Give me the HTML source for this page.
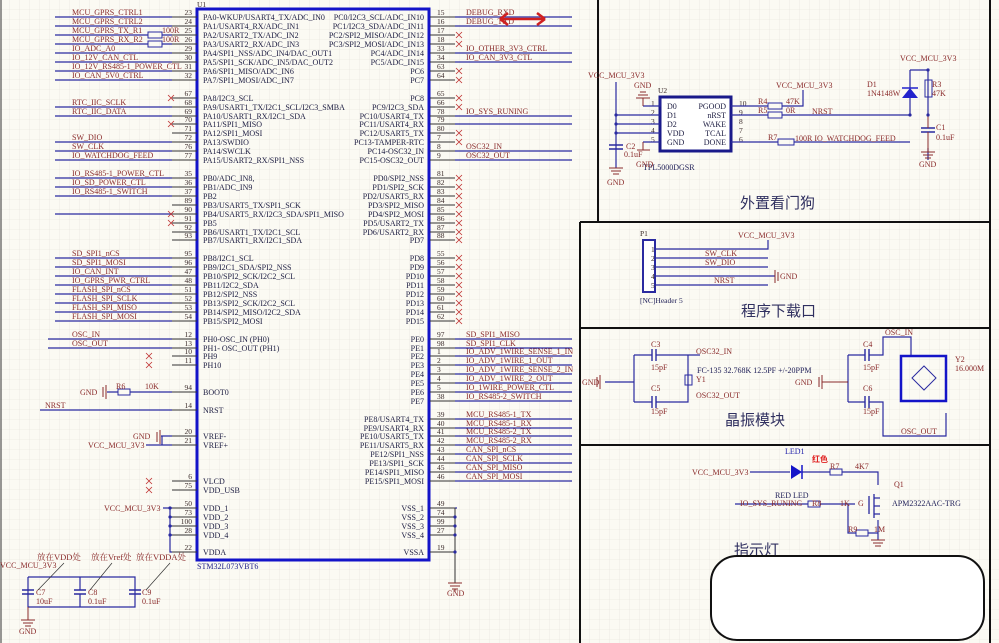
<!DOCTYPE html>
<html><head><meta charset="utf-8"><style>
html,body{margin:0;padding:0;background:#fbfaf3;}
svg{display:block;font-family:"Liberation Serif","Noto Serif CJK SC",serif;}
.p{font-size:8px;fill:#1b1b40}
.n{font-size:8px;fill:#8a2b2b}
.num{font-size:7.5px;fill:#3a2a2a}
.w{stroke:#2a2aa0;stroke-width:1.2;fill:none}
.pin{stroke:#333;stroke-width:1;fill:none}
.x{stroke:#c03030;stroke-width:0.8}
.cn{font-family:"Liberation Sans","Noto Sans CJK SC",sans-serif;font-size:15px;fill:#303060}
</style></head><body>
<svg width="999" height="643" viewBox="0 0 999 643" xmlns="http://www.w3.org/2000/svg">
<defs><pattern id="g" width="10" height="10" patternUnits="userSpaceOnUse"><path d="M10 0V10H0" fill="none" stroke="#e4e2da" stroke-width="0.6"/></pattern></defs>
<rect width="999" height="643" fill="#fbfaf3"/><rect width="999" height="643" fill="url(#g)"/>
<line x1="1" y1="0" x2="1" y2="643" stroke="#333" stroke-width="1"/>
<!-- IC -->
<rect x="197" y="9" width="232" height="551" fill="none" stroke="#1414c8" stroke-width="3"/>
<text x="197" y="7" class="num" fill="#22228a">U1</text>
<text x="197" y="569" class="n" style="fill:#22228a">STM32L073VBT6</text>
<g class="pin">
<path d="M172 17H197M172 26H197M172 35H197M172 44H197M172 53H197M172 62H197M172 71H197M172 80H197M172 98H197M172 107H197M172 116H197M172 124H197M172 133H197M172 142H197M172 151H197M172 160H197M172 178H197M172 187H197M172 196H197M172 205H197M172 214H197M172 223H197M172 232H197M172 240H197M172 258H197M172 267H197M172 276H197M172 285H197M172 294H197M172 303H197M172 312H197M172 321H197M172 339H197M172 348H197M172 356H197M172 365H197M172 392H197M172 410H197M172 436H197M172 445H197M172 481H197M172 490H197M172 508H197M172 517H197M172 526H197M172 535H197M172 552H197"/>
<path d="M430 17H455M430 26H455M430 35H455M430 44H455M430 53H455M430 62H455M430 71H455M430 80H455M430 98H455M430 107H455M430 116H455M430 124H455M430 133H455M430 142H455M430 151H455M430 160H455M430 178H455M430 187H455M430 196H455M430 205H455M430 214H455M430 223H455M430 232H455M430 240H455M430 258H455M430 267H455M430 276H455M430 285H455M430 294H455M430 303H455M430 312H455M430 321H455M430 339H455M430 348H455M430 356H455M430 365H455M430 374H455M430 383H455M430 392H455M430 401H455M430 419H455M430 428H455M430 436H455M430 445H455M430 454H455M430 463H455M430 472H455M430 481H455M430 508H455M430 517H455M430 526H455M430 535H455M430 552H455"/>
</g>
<!-- left pin names -->
<g class="p">
<text x="203" y="20">PA0-WKUP/USART4_TX/ADC_IN0</text><text x="203" y="29">PA1/USART4_RX/ADC_IN1</text><text x="203" y="38">PA2/USART2_TX/ADC_IN2</text><text x="203" y="47">PA3/USART2_RX/ADC_IN3</text><text x="203" y="56">PA4/SPI1_NSS/ADC_IN4/DAC_OUT1</text><text x="203" y="65">PA5/SPI1_SCK/ADC_IN5/DAC_OUT2</text><text x="203" y="74">PA6/SPI1_MISO/ADC_IN6</text><text x="203" y="83">PA7/SPI1_MOSI/ADC_IN7</text>
<text x="203" y="101">PA8/I2C3_SCL</text><text x="203" y="110">PA9/USART1_TX/I2C1_SCL/I2C3_SMBA</text><text x="203" y="119">PA10/USART1_RX/I2C1_SDA</text><text x="203" y="127">PA11/SPI1_MISO</text><text x="203" y="136">PA12/SPI1_MOSI</text><text x="203" y="145">PA13/SWDIO</text><text x="203" y="154">PA14/SWCLK</text><text x="203" y="163">PA15/USART2_RX/SPI1_NSS</text>
<text x="203" y="181">PB0/ADC_IN8,</text><text x="203" y="190">PB1/ADC_IN9</text><text x="203" y="199">PB2</text><text x="203" y="208">PB3/USART5_TX/SPI1_SCK</text><text x="203" y="217">PB4/USART5_RX/I2C3_SDA/SPI1_MISO</text><text x="203" y="226">PB5</text><text x="203" y="235">PB6/USART1_TX/I2C1_SCL</text><text x="203" y="243">PB7/USART1_RX/I2C1_SDA</text>
<text x="203" y="261">PB8/I2C1_SCL</text><text x="203" y="270">PB9/I2C1_SDA/SPI2_NSS</text><text x="203" y="279">PB10/SPI2_SCK/I2C2_SCL</text><text x="203" y="288">PB11/I2C2_SDA</text><text x="203" y="297">PB12/SPI2_NSS</text><text x="203" y="306">PB13/SPI2_SCK/I2C2_SCL</text><text x="203" y="315">PB14/SPI2_MISO/I2C2_SDA</text><text x="203" y="324">PB15/SPI2_MOSI</text>
<text x="203" y="342">PH0-OSC_IN (PH0)</text><text x="203" y="351">PH1- OSC_OUT (PH1)</text><text x="203" y="359">PH9</text><text x="203" y="368">PH10</text>
<text x="203" y="395">BOOT0</text><text x="203" y="413">NRST</text><text x="203" y="439">VREF-</text><text x="203" y="448">VREF+</text><text x="203" y="484">VLCD</text><text x="203" y="493">VDD_USB</text>
<text x="203" y="511">VDD_1</text><text x="203" y="520">VDD_2</text><text x="203" y="529">VDD_3</text><text x="203" y="538">VDD_4</text><text x="203" y="555">VDDA</text>
</g>
<!-- right pin names -->
<g class="p" text-anchor="end">
<text x="424" y="20">PC0/I2C3_SCL/ADC_IN10</text><text x="424" y="29">PC1/I2C3_SDA/ADC_IN11</text><text x="424" y="38">PC2/SPI2_MISO/ADC_IN12</text><text x="424" y="47">PC3/SPI2_MOSI/ADC_IN13</text><text x="424" y="56">PC4/ADC_IN14</text><text x="424" y="65">PC5/ADC_IN15</text><text x="424" y="74">PC6</text><text x="424" y="83">PC7</text>
<text x="424" y="101">PC8</text><text x="424" y="110">PC9/I2C3_SDA</text><text x="424" y="119">PC10/USART4_TX</text><text x="424" y="127">PC11/USART4_RX</text><text x="424" y="136">PC12/USART5_TX</text><text x="424" y="145">PC13-TAMPER-RTC</text><text x="424" y="154">PC14-OSC32_IN</text><text x="424" y="163">PC15-OSC32_OUT</text>
<text x="424" y="181">PD0/SPI2_NSS</text><text x="424" y="190">PD1/SPI2_SCK</text><text x="424" y="199">PD2/USART5_RX</text><text x="424" y="208">PD3/SPI2_MISO</text><text x="424" y="217">PD4/SPI2_MOSI</text><text x="424" y="226">PD5/USART2_TX</text><text x="424" y="235">PD6/USART2_RX</text><text x="424" y="243">PD7</text>
<text x="424" y="261">PD8</text><text x="424" y="270">PD9</text><text x="424" y="279">PD10</text><text x="424" y="288">PD11</text><text x="424" y="297">PD12</text><text x="424" y="306">PD13</text><text x="424" y="315">PD14</text><text x="424" y="324">PD15</text>
<text x="424" y="342">PE0</text><text x="424" y="351">PE1</text><text x="424" y="359">PE2</text><text x="424" y="368">PE3</text><text x="424" y="377">PE4</text><text x="424" y="386">PE5</text><text x="424" y="395">PE6</text><text x="424" y="404">PE7</text>
<text x="424" y="422">PE8/USART4_TX</text><text x="424" y="431">PE9/USART4_RX</text><text x="424" y="439">PE10/USART5_TX</text><text x="424" y="448">PE11/USART5_RX</text><text x="424" y="457">PE12/SPI1_NSS</text><text x="424" y="466">PE13/SPI1_SCK</text><text x="424" y="475">PE14/SPI1_MISO</text><text x="424" y="484">PE15/SPI1_MOSI</text>
<text x="424" y="511">VSS_1</text><text x="424" y="520">VSS_2</text><text x="424" y="529">VSS_3</text><text x="424" y="538">VSS_4</text><text x="424" y="555">VSSA</text>
</g>
<!-- pin numbers -->
<g class="num" text-anchor="end">
<text x="192" y="15">23</text><text x="192" y="24">24</text><text x="192" y="33">25</text><text x="192" y="42">26</text><text x="192" y="51">29</text><text x="192" y="60">30</text><text x="192" y="69">31</text><text x="192" y="78">32</text>
<text x="192" y="96">67</text><text x="192" y="105">68</text><text x="192" y="114">69</text><text x="192" y="122">70</text><text x="192" y="131">71</text><text x="192" y="140">72</text><text x="192" y="149">76</text><text x="192" y="158">77</text>
<text x="192" y="176">35</text><text x="192" y="185">36</text><text x="192" y="194">37</text><text x="192" y="203">89</text><text x="192" y="212">90</text><text x="192" y="221">91</text><text x="192" y="230">92</text><text x="192" y="238">93</text>
<text x="192" y="256">95</text><text x="192" y="265">96</text><text x="192" y="274">47</text><text x="192" y="283">48</text><text x="192" y="292">51</text><text x="192" y="301">52</text><text x="192" y="310">53</text><text x="192" y="319">54</text>
<text x="192" y="337">12</text><text x="192" y="346">13</text><text x="192" y="354">10</text><text x="192" y="363">11</text><text x="192" y="390">94</text><text x="192" y="408">14</text><text x="192" y="434">20</text><text x="192" y="443">21</text><text x="192" y="479">6</text><text x="192" y="488">75</text><text x="192" y="506">50</text><text x="192" y="515">73</text><text x="192" y="524">100</text><text x="192" y="533">28</text><text x="192" y="550">22</text>
</g>
<g class="num">
<text x="437" y="15">15</text><text x="437" y="24">16</text><text x="437" y="33">17</text><text x="437" y="42">18</text><text x="437" y="51">33</text><text x="437" y="60">34</text><text x="437" y="69">63</text><text x="437" y="78">64</text>
<text x="437" y="96">65</text><text x="437" y="105">66</text><text x="437" y="114">78</text><text x="437" y="122">79</text><text x="437" y="131">80</text><text x="437" y="140">7</text><text x="437" y="149">8</text><text x="437" y="158">9</text>
<text x="437" y="176">81</text><text x="437" y="185">82</text><text x="437" y="194">83</text><text x="437" y="203">84</text><text x="437" y="212">85</text><text x="437" y="221">86</text><text x="437" y="230">87</text><text x="437" y="238">88</text>
<text x="437" y="256">55</text><text x="437" y="265">56</text><text x="437" y="274">57</text><text x="437" y="283">58</text><text x="437" y="292">59</text><text x="437" y="301">60</text><text x="437" y="310">61</text><text x="437" y="319">62</text>
<text x="437" y="337">97</text><text x="437" y="346">98</text><text x="437" y="354">1</text><text x="437" y="363">2</text><text x="437" y="372">3</text><text x="437" y="381">4</text><text x="437" y="390">5</text><text x="437" y="399">38</text>
<text x="437" y="417">39</text><text x="437" y="426">40</text><text x="437" y="434">41</text><text x="437" y="443">42</text><text x="437" y="452">43</text><text x="437" y="461">44</text><text x="437" y="470">45</text><text x="437" y="479">46</text>
<text x="437" y="506">49</text><text x="437" y="515">74</text><text x="437" y="524">99</text><text x="437" y="533">27</text><text x="437" y="550">19</text>
</g>
<!-- left nets -->
<path class="w" d="M55 17H172M55 26H172M55 35H148M162 35H172M55 44H148M162 44H172M55 53H172M55 62H172M55 71H172M55 80H172M55 107H172M55 116H172M55 142H172M55 151H172M55 160H172M55 178H172M55 187H172M55 196H172M55 214H172M55 258H172M55 267H172M55 276H172M55 285H172M55 294H172M55 303H172M55 312H172M55 321H172M48 339H172M48 348H172"/>
<rect x="148" y="32" width="14" height="6" fill="none" stroke="#2a2aa0"/><rect x="148" y="41" width="14" height="6" fill="none" stroke="#2a2aa0"/>
<g class="n">
<text x="72" y="15">MCU_GPRS_CTRL1</text><text x="72" y="24">MCU_GPRS_CTRL2</text><text x="72" y="33">MCU_GPRS_TX_R1</text><text x="72" y="42">MCU_GPRS_RX_R2</text><text x="162" y="33">100R</text><text x="162" y="42">100R</text><text x="72" y="51">IO_ADC_A0</text><text x="72" y="60">IO_12V_CAN_CTL</text><text x="72" y="69">IO_12V_RS485-1_POWER_CTL</text><text x="72" y="78">IO_CAN_5V0_CTRL</text>
<text x="72" y="105">RTC_IIC_SCLK</text><text x="72" y="114">RTC_IIC_DATA</text><text x="72" y="140">SW_DIO</text><text x="72" y="149">SW_CLK</text><text x="72" y="158">IO_WATCHDOG_FEED</text>
<text x="72" y="176">IO_RS485-1_POWER_CTL</text><text x="72" y="185">IO_SD_POWER_CTL</text><text x="72" y="194">IO_RS485-1_SWITCH</text>
<text x="72" y="256">SD_SPI1_nCS</text><text x="72" y="265">SD_SPI1_MOSI</text><text x="72" y="274">IO_CAN_INT</text><text x="72" y="283">IO_GPRS_PWR_CTRL</text><text x="72" y="292">FLASH_SPI_nCS</text><text x="72" y="301">FLASH_SPI_SCLK</text><text x="72" y="310">FLASH_SPI_MISO</text><text x="72" y="319">FLASH_SPI_MOSI</text>
<text x="72" y="337">OSC_IN</text><text x="72" y="346">OSC_OUT</text>
</g>
<!-- right nets -->
<path class="w" d="M455 17H572M455 26H572M455 53H572M455 62H572M455 116H572M455 124H572M455 151H572M455 160H572M455 339H572M455 348H572M455 356H572M455 365H572M455 374H572M455 383H572M455 392H572M455 401H572M455 419H572M455 428H572M455 436H572M455 445H572M455 454H572M455 463H572M455 472H572M455 481H572"/>
<g class="n">
<text x="466" y="15">DEBUG_RXD</text><text x="466" y="24">DEBUG_TXD</text><text x="466" y="51">IO_OTHER_3V3_CTRL</text><text x="466" y="60">IO_CAN_3V3_CTL</text><text x="466" y="114">IO_SYS_RUNING</text><text x="466" y="149">OSC32_IN</text><text x="466" y="158">OSC32_OUT</text>
<text x="466" y="337">SD_SPI1_MISO</text><text x="466" y="346">SD_SPI1_CLK</text><text x="466" y="354">IO_ADV_1WIRE_SENSE_1_IN</text><text x="466" y="363">IO_ADV_1WIRE_1_OUT</text><text x="466" y="372">IO_ADV_1WIRE_SENSE_2_IN</text><text x="466" y="381">IO_ADV_1WIRE_2_OUT</text><text x="466" y="390">IO_1WIRE_POWER_CTL</text><text x="466" y="399">IO_RS485-2_SWITCH</text>
<text x="466" y="417">MCU_RS485-1_TX</text><text x="466" y="426">MCU_RS485-1_RX</text><text x="466" y="434">MCU_RS485-2_TX</text><text x="466" y="443">MCU_RS485-2_RX</text><text x="466" y="452">CAN_SPI_nCS</text><text x="466" y="461">CAN_SPI_SCLK</text><text x="466" y="470">CAN_SPI_MISO</text><text x="466" y="479">CAN_SPI_MOSI</text>
</g>
<!-- no-connect X -->
<g class="x">
<path d="M168 95l6 6M174 95l-6 6M168 121l6 6M174 121l-6 6M168 211l6 6M174 211l-6 6M168 220l6 6M174 220l-6 6M146 353l6 6M152 353l-6 6M146 362l6 6M152 362l-6 6M146 478l6 6M152 478l-6 6M146 487l6 6M152 487l-6 6"/>
<path d="M456 32l6 6M462 32l-6 6M456 41l6 6M462 41l-6 6M456 68l6 6M462 68l-6 6M456 77l6 6M462 77l-6 6M456 95l6 6M462 95l-6 6M456 104l6 6M462 104l-6 6M456 130l6 6M462 130l-6 6M456 139l6 6M462 139l-6 6M456 175l6 6M462 175l-6 6M456 184l6 6M462 184l-6 6M456 193l6 6M462 193l-6 6M456 202l6 6M462 202l-6 6M456 211l6 6M462 211l-6 6M456 220l6 6M462 220l-6 6M456 229l6 6M462 229l-6 6M456 237l6 6M462 237l-6 6M456 255l6 6M462 255l-6 6M456 264l6 6M462 264l-6 6M456 273l6 6M462 273l-6 6M456 282l6 6M462 282l-6 6M456 291l6 6M462 291l-6 6M456 300l6 6M462 300l-6 6M456 309l6 6M462 309l-6 6M456 318l6 6M462 318l-6 6"/>
</g>
<!-- red arrow -->
<path d="M500 19H545M500 19l8-6M500 19l8 6M545 19l-8-6M545 19l-8 6" stroke="#d02020" stroke-width="2.5" fill="none"/>
<!-- boot / nrst / vref -->
<path class="w" d="M107 392H118M130 392H172M40 410H172" />
<rect x="118" y="389" width="12" height="6" fill="none" stroke="#2a2aa0"/>
<path d="M103 387V397M106 385V399" stroke="#8a2b2b"/>
<text x="80" y="395" class="n">GND</text><text x="116" y="389" class="n">R6</text><text x="145" y="389" class="n">10K</text><text x="45" y="408" class="n">NRST</text>
<path d="M157 432V442M160 430V444" stroke="#8a2b2b"/><path class="w" d="M161 436H172M146 445H172M162 436V445"/>
<text x="133" y="439" class="n">GND</text><text x="88" y="448" class="n">VCC_MCU_3V3</text>
<!-- vdd -->
<path class="w" d="M163 508H172M170 508V552H172M170 517H172M170 526H172M170 535H172"/>
<text x="104" y="511" class="n">VCC_MCU_3V3</text>
<path class="w" d="M455 508H456M455 508H457"/><path d="M455 508V552M455 552V583M430 517H455M430 526H455M430 535H455" stroke="#333"/>
<g fill="#2a2aa0"><circle cx="170" cy="508" r="1.6"/><circle cx="170" cy="517" r="1.6"/><circle cx="170" cy="526" r="1.6"/><circle cx="170" cy="535" r="1.6"/><circle cx="455" cy="517" r="1.6"/><circle cx="455" cy="526" r="1.6"/><circle cx="455" cy="535" r="1.6"/><circle cx="455" cy="552" r="1.6"/></g>
<path d="M448 583H462M450 586H460M452 589H458M455 589V592" stroke="#8a2b2b"/><text x="447" y="596" class="n">GND</text>
<!-- caps bottom-left -->
<text x="0" y="568" class="n">VCC_MCU_3V3</text>
<path class="w" d="M28 577H135V607H28V577M28 577V590M28 594V607M80 577V590M80 594V607M135 594"/>
<path d="M22 590H34M22 594H34M74 590H86M74 594H86M129 590H141M129 594H141" stroke="#2a2aa0" stroke-width="1.4"/>
<path d="M28 607V620M21 620H35M23 623H33M25 626H31" stroke="#8a2b2b"/><text x="19" y="634" class="n">GND</text>
<text x="36" y="595" class="n">C7</text><text x="36" y="604" class="n">10uF</text><text x="88" y="595" class="n">C8</text><text x="88" y="604" class="n">0.1uF</text><text x="142" y="595" class="n">C9</text><text x="142" y="604" class="n">0.1uF</text>
<text x="37" y="560" class="n" style="font-size:8.5px">放在VDD处</text><text x="91" y="560" class="n" style="font-size:8.5px">放在Vref处</text><text x="136" y="560" class="n" style="font-size:8.5px">放在VDDA处</text>
<path d="M64 563L38 590M112 563L90 590M170 563L146 590" stroke="#333" stroke-width="0.7"/>
<!-- section borders -->
<g stroke="#111" stroke-width="2" fill="none">
<path d="M598 0V222H990V0"/><path d="M580 222V643"/><path d="M580 222H598"/><path d="M580 328H990M580 445H990"/><path d="M990 222V643"/>
</g>
<!-- watchdog -->
<rect x="660" y="97" width="71" height="54" fill="#fff" stroke="#1a1a8a" stroke-width="3"/>
<g class="p"><text x="667" y="109">D0</text><text x="667" y="118">D1</text><text x="667" y="127">D2</text><text x="667" y="136">VDD</text><text x="667" y="145">GND</text></g>
<g class="p" text-anchor="end"><text x="726" y="109">PGOOD</text><text x="726" y="118">nRST</text><text x="726" y="127">WAKE</text><text x="726" y="136">TCAL</text><text x="726" y="145">DONE</text></g>
<g class="num"><text x="651" y="106">1</text><text x="651" y="115">2</text><text x="651" y="124">3</text><text x="651" y="133">4</text><text x="651" y="142">5</text><text x="739" y="106">10</text><text x="739" y="115">9</text><text x="739" y="124">8</text><text x="739" y="133">7</text><text x="739" y="142">6</text></g>
<text x="658" y="93" class="num">U2</text><text x="643" y="170" class="n" style="fill:#22225a">TPL5000DGSR</text>
<path class="w" d="M616 82V168M616 115H660M616 124H660M616 133H660M643 106H660V98M643 142H660"/>
<path d="M636 98H650M638 95H648M640 92H646M643 98V106M643 142V150M637 150H650" stroke="#8a2b2b"/>
<path d="M609 145H623M609 149H623" stroke="#2a2aa0" stroke-width="1.4"/>
<path d="M609 168H623M611 171H621M613 174H619" stroke="#8a2b2b"/>
<text x="588" y="78" class="n">VCC_MCU_3V3</text><text x="634" y="88" class="n">GND</text><text x="607" y="185" class="n">GND</text><text x="626" y="149" class="n">C2</text><text x="624" y="157" class="n">0.1uF</text><text x="636" y="167" class="n">GND</text>
<path class="w" d="M731 106H768M782 106H803V90M731 115H768M782 115H910M731 142H778M794 142H910"/>
<rect x="768" y="103" width="14" height="6" fill="none" stroke="#2a2aa0"/><rect x="768" y="112" width="14" height="6" fill="none" stroke="#2a2aa0"/><rect x="778" y="139" width="16" height="6" fill="none" stroke="#2a2aa0"/>
<text x="758" y="104" class="n">R4</text><text x="786" y="104" class="n">47K</text><text x="758" y="113" class="n">R5</text><text x="786" y="113" class="n">0R</text><text x="812" y="114" class="n">NRST</text><text x="768" y="140" class="n">R7</text><text x="795" y="141" class="n">100R IO_WATCHDOG_FEED</text>
<text x="776" y="88" class="n">VCC_MCU_3V3</text>
<path class="w" d="M910 70H928V115M910 70V115M928 148V160"/>
<path d="M902 98H918L910 88Z" fill="#2222cc"/><path d="M902 88H918" stroke="#2222cc" stroke-width="1.5"/>
<rect x="925" y="80" width="7" height="17" fill="none" stroke="#2a2aa0"/>
<path d="M921 128H935M921 132H935" stroke="#2a2aa0" stroke-width="1.4"/><path d="M928 115V128M928 132V152M921 152H935M923 155H933M925 158H931" stroke="#8a2b2b"/>
<g fill="#2a2aa0"><circle cx="910" cy="115" r="1.6"/><circle cx="928" cy="115" r="1.6"/><circle cx="928" cy="70" r="1.6"/><circle cx="616" cy="115" r="1.6"/><circle cx="616" cy="124" r="1.6"/><circle cx="616" cy="133" r="1.6"/></g>
<text x="900" y="61" class="n">VCC_MCU_3V3</text><text x="867" y="87" class="n">D1</text><text x="867" y="96" class="n">1N4148W</text><text x="932" y="87" class="n">R3</text><text x="932" y="96" class="n">47K</text><text x="936" y="130" class="n">C1</text><text x="936" y="140" class="n">0.1uF</text><text x="919" y="167" class="n">GND</text>
<text x="740" y="208" class="cn">外置看门狗</text>
<!-- download header -->
<rect x="643" y="240" width="12" height="52" fill="#fff" stroke="#2a2aa0" stroke-width="2"/>
<text x="640" y="236" class="num">P1</text>
<g class="num"><text x="651" y="252">1</text><text x="651" y="261">2</text><text x="651" y="270">3</text><text x="651" y="279">4</text><text x="651" y="288">5</text></g>
<path class="w" d="M655 249H768V240M655 258H768M655 267H768M655 276H775M655 285H768"/>
<path d="M775 270V283M778 272V281" stroke="#8a2b2b"/><text x="780" y="279" class="n">GND</text>
<text x="738" y="238" class="n">VCC_MCU_3V3</text><text x="705" y="256" class="n">SW_CLK</text><text x="705" y="265" class="n">SW_DIO</text><text x="714" y="283" class="n">NRST</text>
<text x="640" y="303" class="n" style="fill:#22225a;font-size:7.5px">[NC]Header 5</text>
<text x="741" y="316" class="cn">程序下载口</text>
<!-- crystal -->
<path class="w" d="M634 382H634M605 382H634M634 355V402M634 355H652M656 355H688M634 402H652M656 402H688V355M700 355H688"/>
<path d="M652 349V361M656 349V361M652 396V408M656 396V408" stroke="#2a2aa0" stroke-width="1.4"/>
<rect x="685" y="375" width="7" height="10" fill="none" stroke="#2a2aa0"/>
<path d="M597 377V387M600 375V389" stroke="#8a2b2b"/><text x="582" y="385" class="n">GND</text>
<text x="651" y="347" class="n">C3</text><text x="651" y="370" class="n">15pF</text><text x="651" y="391" class="n">C5</text><text x="651" y="414" class="n">15pF</text>
<text x="696" y="354" class="n">OSC32_IN</text><text x="696" y="398" class="n">OSC32_OUT</text><text x="697" y="373" class="n" style="fill:#22225a">FC-135 32.768K 12.5PF +/-20PPM</text><text x="696" y="382" class="n">Y1</text>
<path class="w" d="M847 382H848M848 355V402M848 355H865M869 355H883V337H911V355M848 402H865M869 402H883V436H946V413"/>
<path d="M865 349V361M869 349V361M865 396V408M869 396V408" stroke="#2a2aa0" stroke-width="1.4"/>
<path d="M819 377V387M822 375V389M822 382H848" stroke="#8a2b2b"/><text x="795" y="385" class="n">GND</text>
<rect x="901" y="356" width="45" height="45" fill="none" stroke="#1414c8" stroke-width="2.5"/>
<path d="M912 378L924 366L936 378L924 390Z" fill="none" stroke="#2a2aa0"/>
<text x="863" y="347" class="n">C4</text><text x="863" y="370" class="n">15pF</text><text x="863" y="391" class="n">C6</text><text x="863" y="414" class="n">15pF</text>
<text x="885" y="335" class="n">OSC_IN</text><text x="901" y="434" class="n">OSC_OUT</text><text x="955" y="362" class="n">Y2</text><text x="955" y="371" class="n">16.000M</text>
<text x="725" y="425" class="cn">晶振模块</text>
<!-- LED -->
<path class="w" d="M750 472H790M802 472H830M842 472H878V485M735 504H808M820 504H855M848 504V533H856M868 533H878M878 520V540"/>
<path d="M791 465V479L802 472Z" fill="#1414c8"/><path d="M802 465V479" stroke="#1414c8" stroke-width="1.5"/>
<rect x="830" y="469" width="12" height="6" fill="none" stroke="#2a2aa0"/><rect x="808" y="501" width="12" height="6" fill="none" stroke="#2a2aa0"/><rect x="856" y="530" width="12" height="6" fill="none" stroke="#2a2aa0"/>
<path d="M869 496V514M874 494V518M874 498H880M874 506H880M874 514H880" stroke="#2a2aa0" stroke-width="1.3"/>
<path d="M871 540H885M873 543H883M875 546H881" stroke="#8a2b2b"/>
<text x="785" y="454" class="n" style="fill:#2222aa">LED1</text><text x="812" y="462" style="font-size:8px;fill:#e02020;font-family:'Liberation Sans','Noto Sans CJK SC',sans-serif;font-weight:bold">红色</text>
<text x="692" y="475" class="n">VCC_MCU_3V3</text><text x="830" y="469" class="n">R7</text><text x="855" y="469" class="n">4K7</text><text x="894" y="487" class="n">Q1</text>
<text x="775" y="498" class="n" style="fill:#22225a">RED LED</text><text x="740" y="506" class="n">IO_SYS_RUNING</text><text x="812" y="506" class="n">R8</text><text x="840" y="506" class="n">1K</text><text x="858" y="506" class="n">G</text>
<text x="892" y="506" class="n" style="fill:#22225a">APM2322AAC-TRG</text><text x="848" y="532" class="n">R9</text><text x="874" y="532" class="n">1M</text>
<text x="734" y="555" class="cn">指示灯</text>
<!-- rounded box -->
<rect x="711" y="556" width="273" height="84" rx="26" fill="#fff" stroke="#111" stroke-width="2"/>
</svg>
</body></html>
